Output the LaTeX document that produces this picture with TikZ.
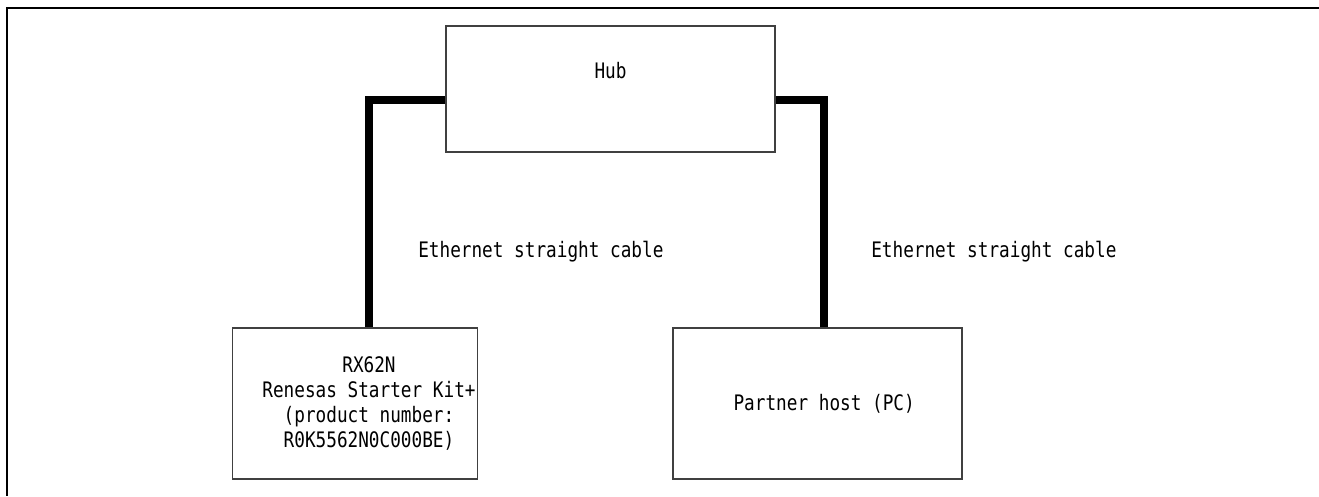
\documentclass[tikz,border=0pt]{standalone}
\usepackage{fontspec}
\setmonofont[FakeStretch=0.83]{DejaVu Sans Mono}
\usetikzlibrary{positioning}

\begin{document}
\begin{tikzpicture}[x=0.75pt, y=-0.75pt,
    unit/.style={draw=black!75, line width=0.9pt, inner sep=0pt,
        minimum height=113.25pt},
    txt/.style={inner sep=0pt, align=center,
        font=\ttfamily\fontsize{16}{18.75}\selectfont},
    cable/.style={line width=6pt},
    lbl/.style={txt, anchor=west}]
    \useasboundingbox (0,0) rectangle (1319,496);

    % frame
    \draw[line width=2pt] (1319,8) -- (7,8) -- (7,496);

    \node[unit, minimum width=246.75pt, minimum height=94.5pt] (hub) at (610.5,89) {};
    \node[txt] (hubtext) at ([yshift=14pt]hub.center) {Hub};

    \node[unit, minimum width=183.75pt] (rsk) at (355,403.5) {};
    \node[txt] (rsktext) at ([xshift=10.5pt]rsk.center) {RX62N\\Renesas Starter Kit+\\(product number:\\R0K5562N0C000BE)};

    \node[unit, minimum width=216.75pt] (host) at (817.5,403.5) {};
    \node[txt] (hosttext) at ([xshift=5pt]host.center) {Partner host (PC)};

    % cables
    \draw[cable] ([yshift=-8.25pt]hub.west) -| (rsktext |- rsk.north);
    \draw[cable] ([yshift=-8.25pt]hub.east) -| (hosttext |- host.north);

    \node[lbl] (cableL) at (418,252) {Ethernet straight cable};
    \node[lbl] (cableR) at (871,252) {Ethernet straight cable};
\end{tikzpicture}
\end{document}
